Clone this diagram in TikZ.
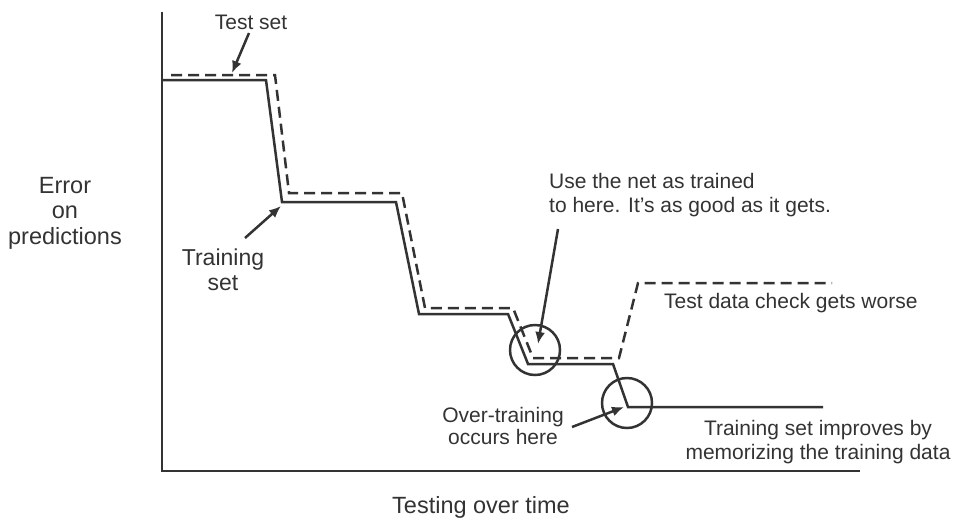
\documentclass[tikz,border=0pt]{standalone}
\usepackage{fontspec}
\setmainfont{Liberation Sans}
\usetikzlibrary{arrows.meta}
\definecolor{ink}{HTML}{333333}
\tikzset{
  axisline/.style={draw=ink, line width=2.8pt},
  trainline/.style={draw=ink, line width=2.5pt, line join=miter},
  testline/.style={draw=ink, line width=2.5pt, dash pattern=on 11pt off 6pt},
  pointer/.style={draw=ink, line width=2.5pt, -{Latex[length=12pt,width=10pt]}},
  ring/.style={draw=ink, line width=2.5pt},
  lbl/.style={text=ink, inner sep=0pt, font=\fontsize{21}{24.5}\selectfont, align=center},
  biglbl/.style={text=ink, inner sep=0pt, font=\fontsize{23.5}{25.5}\selectfont, align=center}
}
\begin{document}
\begin{tikzpicture}[x=1pt,y=-1pt]
\useasboundingbox (0,0) rectangle (955,520);

% axes
\draw[axisline] (162,12) -- (162,471) -- (860,471);

% training-set error curve
\draw[trainline] (162,80) -- (266,80) -- (282,202) -- (396,202) -- (419,314)
  -- (508,314) -- (528,364) -- (613,364) -- (628,407) -- (823,407);

% test-set error curve
\draw[testline] (171,75) -- (275,75) -- (289,193) -- (402,193) -- (425,308)
  -- (513,308) -- (533,358) -- (619,358) -- (638,283) -- (832,283);

% highlighted points
\draw[ring] (535,350) circle[radius=25];
\draw[ring] (627,403) circle[radius=25];

% arrow targets
\coordinate (testpt) at (232,73);
\coordinate (trainpt) at (281,206);
\coordinate (bestpt) at (538,344);
\coordinate (overpt) at (624,407);

% labels
\node[lbl] (testset) at (251,22) {Test set};
\node[biglbl] (errlbl) at (65,213) {Error\\on\\predictions};
\node[biglbl, font=\fontsize{23}{25}\selectfont] (trainset) at (223,270) {Training\\set};
\node[lbl, anchor=west, align=left] (usenet) at (549,195) {Use the net as trained\\to here. It’s as good as it gets.};
\node[lbl, anchor=west] (worse) at (664,303) {Test data check gets worse};
\node[lbl, font=\fontsize{21}{22.5}\selectfont] (overtrain) at (503,426) {Over-training\\occurs here};
\node[lbl, font=\fontsize{21}{23.5}\selectfont] (improves) at (818,442) {Training set improves by\\memorizing the training data};
\node[biglbl] (xlbl) at (481,507) {Testing over time};

% pointers
\coordinate (testsrc) at (249,33);
\coordinate (trainsrc) at (245,238);
\coordinate (usesrc) at (558,229);
\coordinate (oversrc) at (572,427);
\draw[pointer] (testsrc) -- (testpt);
\draw[pointer] (trainsrc) -- (trainpt);
\draw[pointer] (usesrc) -- (bestpt);
\draw[pointer] (oversrc) -- (overpt);
\end{tikzpicture}
\end{document}
